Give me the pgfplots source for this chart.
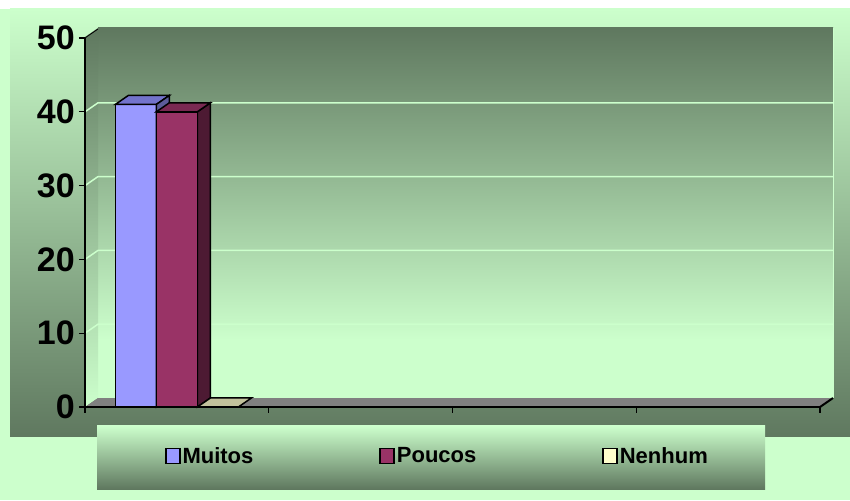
\documentclass[border=0pt]{standalone}
\usepackage{fontspec}
\setmainfont{Liberation Sans}
\usepackage{pgfplots}
\pgfplotsset{compat=1.18}
\definecolor{lg}{HTML}{CCFFCC}
\definecolor{dg}{HTML}{5F785F}
\definecolor{muitos}{HTML}{9999FF}
\definecolor{muitostop}{HTML}{7373CC}
\definecolor{muitosside}{HTML}{5C5C99}
\definecolor{poucos}{HTML}{993366}
\definecolor{poucostop}{HTML}{7A2952}
\definecolor{poucosside}{HTML}{4D1A33}
\definecolor{nenhum}{HTML}{FFFFCC}
\definecolor{nenhumtop}{HTML}{C2C29C}
\definecolor{floorc}{HTML}{808080}
\begin{document}
\begin{tikzpicture}[x=1pt,y=1pt]
\useasboundingbox (0,0) rectangle (850,500);
% page
\fill[lg] (0,0) rectangle (850,491);
\fill[white] (0,491) rectangle (850,500);
% chart area
\shade[top color=lg, bottom color=dg] (10,63) rectangle (850,491);
% legend box
\shade[top color=lg, bottom color=dg] (97,11) rectangle (765,74);
% back wall
\fill[lg] (98,102) rectangle (833,472);
\shade[top color=dg, bottom color=lg] (98,160) rectangle (833,472);
\draw[lg, line width=1pt] (833,102) -- (833,472);
% left wall
\shade[top color=dg, bottom color=lg] (85,93) -- (98,102) -- (98,472) -- (85,463) -- cycle;
% gridlines
\foreach \v in {166.8,240.6,314.4,388.2} {
  \draw[lg, line width=1.5pt] (85,\v) -- (98,\v+9) -- (833,\v+9);
}
\draw[black, line width=0.8pt] (85,462) -- (98,471);
% floor
\fill[floorc] (85,93) -- (820,93) -- (833,102) -- (98,102) -- cycle;
\draw[lg, line width=1pt] (98,102.5) -- (833,102.5);
\draw[black, line width=2pt] (820,93) -- (833,102);
\begin{axis}[
  at={(85pt,93pt)}, anchor=south west,
  scale only axis, width=735pt, height=369pt,
  xmin=-0.5, xmax=3.5, ymin=0, ymax=50,
  axis x line*=bottom, axis y line*=left,
  x axis line style={black, line width=2.2pt, -},
  y axis line style={black, line width=1.5pt, -},
  xtick={-0.5,0.5,1.5,2.5,3.5}, xticklabels={},
  ytick={0,10,20,30,40,50},
  tick style={black, line width=1.3pt},
  major tick length=6pt, tick align=outside,
  yticklabel style={font=\fontsize{34}{34}\selectfont\bfseries, inner sep=0pt, xshift=-4pt},
  /pgf/number format/assume math mode=true,
  clip=false,
  axis background/.style={fill=none},
  legend columns=3,
  legend style={at={(0.4795,-0.1328)}, anchor=center, draw=none, fill=none,
    font=\fontsize{22}{22}\selectfont\bfseries,
    nodes={inner sep=2pt},
    /tikz/every even column/.append style={column sep=124pt}},
  legend image code/.code={\draw[#1, draw=black, line width=1.5pt] (0pt,-7.5pt) rectangle (14pt,7.5pt);},
]
\addplot[ybar, bar width=41pt, bar shift=-41pt, fill=muitos, draw=black, line width=1.5pt] coordinates {(0,41)};
\addlegendentry{Muitos}
\addplot[forget plot, fill=muitostop, draw=black, line width=1.5pt] coordinates {(-0.33469,41) (-0.11156,41) (-0.04081,42.2195) (-0.26394,42.2195)} -- cycle;
\addplot[forget plot, fill=muitosside, draw=black, line width=1.5pt] coordinates {(-0.11156,0) (-0.11156,41) (-0.04081,42.2195) (-0.04081,1.2195)} -- cycle;
\addplot[forget plot, fill=poucosside, draw=black, line width=1.5pt] coordinates {(0.11156,0) (0.11156,40) (0.18231,41.2195) (0.18231,1.2195)} -- cycle;
\addplot[ybar, bar width=41pt, bar shift=0pt, fill=poucos, draw=black, line width=1.5pt] coordinates {(0,40)};
\addlegendentry{Poucos}
\addplot[forget plot, fill=poucostop, draw=black, line width=1.5pt] coordinates {(-0.11156,40) (0.11156,40) (0.18231,41.2195) (-0.04081,41.2195)} -- cycle;
\addplot[forget plot, fill=nenhumtop, draw=black, line width=1.5pt] coordinates {(0.11156,0) (0.33469,0) (0.40544,1.2195) (0.18231,1.2195)} -- cycle;
\addplot[ybar, bar width=41pt, bar shift=41pt, fill=nenhum, draw=black, line width=1.5pt] coordinates {(0,0)};
\addlegendentry{Nenhum}
\end{axis}
\end{tikzpicture}
\end{document}
